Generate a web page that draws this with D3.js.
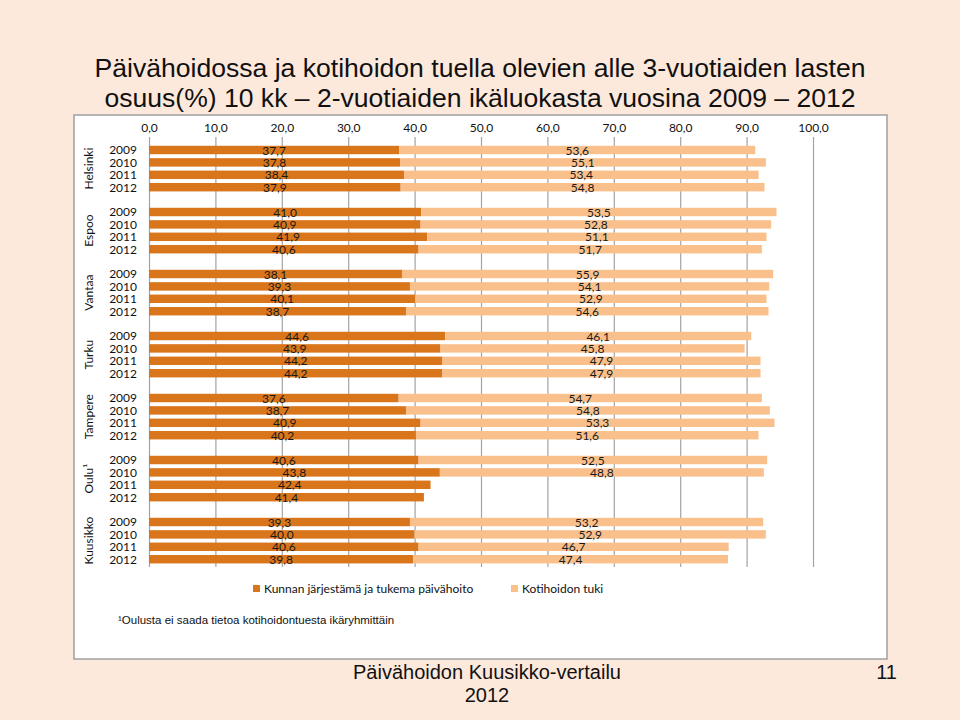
<!DOCTYPE html>
<html>
<head>
<meta charset="utf-8">
<script src="https://cdn.jsdelivr.net/npm/d3@7"></script>
<style>
  body { margin: 0; background: #fde9dc; }
  svg { display: block; }
</style>
</head>
<body>
<svg id="chart" width="960" height="720"></svg>
<script>
// ---- data ----
const cities = ["Helsinki", "Espoo", "Vantaa", "Turku", "Tampere", "Oulu¹", "Kuusikko"];
const years = ["2009", "2010", "2011", "2012"];
const seriesNames = ["Kunnan järjestämä ja tukema päivähoito", "Kotihoidon tuki"];
// Kunnan järjestämä ja tukema päivähoito (per city, 2009..2012)
const daycare = [
  [37.7, 37.8, 38.4, 37.9],
  [41.0, 40.9, 41.9, 40.6],
  [38.1, 39.3, 40.1, 38.7],
  [44.6, 43.9, 44.2, 44.2],
  [37.6, 38.7, 40.9, 40.2],
  [40.6, 43.8, 42.4, 41.4],
  [39.3, 40.0, 40.6, 39.8]
];
// Kotihoidon tuki
const homecare = [
  [53.6, 55.1, 53.4, 54.8],
  [53.5, 52.8, 51.1, 51.7],
  [55.9, 54.1, 52.9, 54.6],
  [46.1, 45.8, 47.9, 47.9],
  [54.7, 54.8, 53.3, 51.6],
  [52.5, 48.8, null, null],
  [53.2, 52.9, 46.7, 47.4]
];
const xTicks = [0, 10, 20, 30, 40, 50, 60, 70, 80, 90, 100];
const titleLines = [
  "Päivähoidossa ja kotihoidon tuella olevien alle 3-vuotiaiden lasten",
  "osuus(%) 10 kk – 2-vuotiaiden ikäluokasta vuosina 2009 – 2012"
];
const footnote = "¹Oulusta ei saada tietoa kotihoidontuesta ikäryhmittäin";
const footerLines = ["Päivähoidon Kuusikko-vertailu", "2012"];
const pageNumber = "11";

// ---- styles ----
const C_DARK = "#d9751a";
const C_LIGHT = "#f9c08c";
const C_BG = "#fde9dc";
const C_GRID = "#a3a3a3";
const LABEL_FONT = "Lato, 'Open Sans', sans-serif";
const SANS = "'Liberation Sans', Arial, sans-serif";
const fmt = v => d3.format(".1f")(v).replace(".", ",");

const svg = d3.select("#chart");
svg.append("rect").attr("width", 960).attr("height", 720).attr("fill", C_BG);

// white panel
svg.append("rect")
  .attr("x", 74).attr("y", 115).attr("width", 813).attr("height", 544)
  .attr("fill", "#fff").attr("stroke", "#a0a0a0").attr("stroke-width", 1.5);

// title
svg.append("g").selectAll("text").data(titleLines).join("text")
  .attr("x", 480).attr("y", (d, i) => 77 + i * 30)
  .attr("text-anchor", "middle")
  .attr("font-family", SANS).attr("font-size", 25)
  .attr("textLength", (d, i) => i === 0 ? 771 : 751)
  .attr("lengthAdjust", "spacingAndGlyphs")
  .attr("fill", "#111")
  .text(d => d);

// scales
const x = d3.scaleLinear().domain([0, 100]).range([149, 813]);
const rows = [];
cities.forEach((c, ci) => {
  years.forEach((y, yi) => {
    rows.push({ city: c, ci, year: y, yi, slot: ci * 5 + yi,
      v1: daycare[ci][yi], v2: homecare[ci][yi] });
  });
});
const slots = d3.range(cities.length * 5);
const yBand = d3.scaleBand().domain(slots).range([143.8, 143.8 + 35 * 12.4]).paddingInner(0.32).paddingOuter(0.16);
const yc = s => yBand(s) + yBand.bandwidth() / 2;

// axis + gridlines
const axis = d3.axisTop(x).tickValues(xTicks).tickFormat(fmt)
  .tickSizeInner(-430).tickSizeOuter(0).tickPadding(5);
const gAxis = svg.append("g").attr("transform", "translate(0,137)").call(axis);
gAxis.select(".domain").remove();
gAxis.selectAll(".tick line").attr("stroke", C_GRID).attr("stroke-width", 1.2);
gAxis.selectAll(".tick text").attr("font-family", LABEL_FONT).attr("font-size", 12).attr("fill", "#111");

// bars
const gBars = svg.append("g");
gBars.selectAll("rect.d").data(rows).join("rect").attr("class", "d")
  .attr("x", x(0)).attr("y", d => yBand(d.slot))
  .attr("width", d => x(d.v1) - x(0)).attr("height", yBand.bandwidth())
  .attr("fill", C_DARK);
gBars.selectAll("rect.h").data(rows.filter(d => d.v2 != null)).join("rect").attr("class", "h")
  .attr("x", d => x(d.v1)).attr("y", d => yBand(d.slot))
  .attr("width", d => x(d.v1 + d.v2) - x(d.v1)).attr("height", yBand.bandwidth())
  .attr("fill", C_LIGHT);

// data labels
const gLab = svg.append("g").attr("font-family", LABEL_FONT).attr("font-size", 12).attr("fill", "#1a1a1a").attr("text-anchor", "middle");
gLab.selectAll("text.d").data(rows).join("text").attr("class", "d")
  .attr("x", d => x(d.v1 / 2)).attr("y", d => yc(d.slot)).attr("dy", "0.38em")
  .text(d => fmt(d.v1));
gLab.selectAll("text.h").data(rows.filter(d => d.v2 != null)).join("text").attr("class", "h")
  .attr("x", d => x(d.v1 + d.v2 / 2)).attr("y", d => yc(d.slot)).attr("dy", "0.38em")
  .text(d => fmt(d.v2));

// year labels
svg.append("g").attr("font-family", LABEL_FONT).attr("font-size", 12).attr("fill", "#111").attr("text-anchor", "end")
  .selectAll("text").data(rows).join("text")
  .attr("x", 137).attr("y", d => yc(d.slot)).attr("dy", "0.36em")
  .text(d => d.year);

// city labels (rotated)
svg.append("g").attr("font-family", LABEL_FONT).attr("font-size", 12).attr("fill", "#111").attr("text-anchor", "middle")
  .selectAll("text").data(cities).join("text")
  .attr("transform", (d, i) => `translate(93,${(yc(i * 5) + yc(i * 5 + 3)) / 2}) rotate(-90)`)
  .text(d => d);

// legend
const legend = svg.append("g").attr("font-family", LABEL_FONT).attr("font-size", 12).attr("fill", "#111");
const legX = [253, 511];
seriesNames.forEach((n, i) => {
  legend.append("rect").attr("x", legX[i]).attr("y", 585).attr("width", 7).attr("height", 7)
    .attr("fill", i === 0 ? C_DARK : C_LIGHT);
  legend.append("text").attr("x", legX[i] + 11).attr("y", 593).text(n);
});

// footnote
svg.append("text").attr("x", 118).attr("y", 624)
  .attr("font-family", SANS).attr("font-size", 11.5).attr("fill", "#111")
  .text(footnote);

// footer
svg.append("g").selectAll("text").data(footerLines).join("text")
  .attr("x", 487).attr("y", (d, i) => 679 + i * 23)
  .attr("text-anchor", "middle").attr("font-family", SANS).attr("font-size", 20).attr("fill", "#111")
  .text(d => d);
svg.append("text").attr("x", 897).attr("y", 679).attr("text-anchor", "end")
  .attr("font-family", SANS).attr("font-size", 20).attr("fill", "#111").text(pageNumber);
</script>
</body>
</html>
